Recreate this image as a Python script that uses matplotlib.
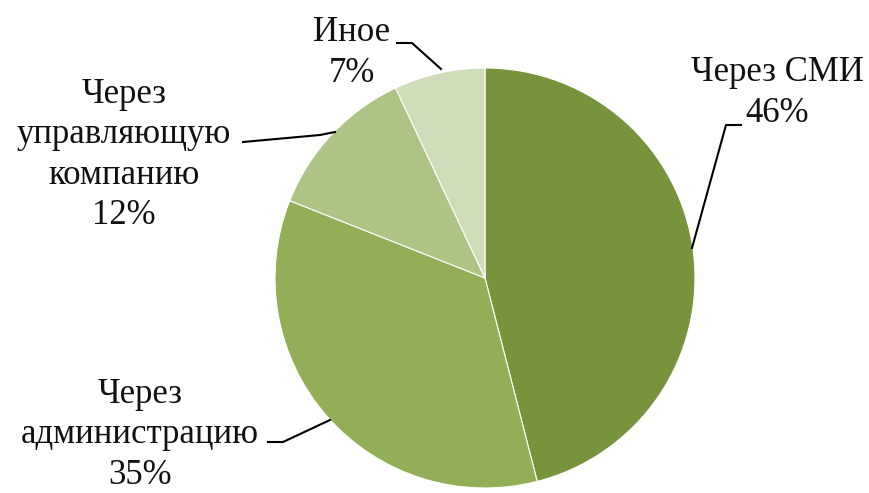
import matplotlib.pyplot as plt
import numpy as np

# Доли ответов
labels = ['Через СМИ', 'Через\nадминистрацию', 'Через\nуправляющую\nкомпанию', 'Иное']
values = [46, 35, 12, 7]
colors = ['#77933C', '#92AE56', '#AEC486', '#CFDCB9']

H = 493

fig = plt.figure(figsize=(8.7, 4.93), dpi=100)
ax = fig.add_axes([0, 0, 1, 1])

ax.pie(values, colors=colors, startangle=90, counterclock=False,
       center=(485, H - 278), radius=210, frame=True,
       wedgeprops=dict(edgecolor='white', linewidth=0.8))
ax.set_xlim(0, 870)
ax.set_ylim(0, H)
ax.set_aspect('equal')
ax.axis('off')

fnt = dict(family='Liberation Serif', fontsize=25, color='#111111',
           ha='center', va='center', linespacing=1.3)

# подписи: (x, y центра блока, линия-выноска)
places = [
    (777, 93, [(692, 248), (726, 125), (741, 125)]),
    (140, 435, [(330, 420), (283, 442), (268, 442)]),
    (124, 155, [(335, 132), (320, 135), (243, 142)]),
    (352, 53, [(441, 69), (412, 43), (397, 43)]),
]

for lab, v, (x, y, pts) in zip(labels, values, places):
    ax.text(x, H - y, f'{lab}\n{v}%', **fnt)
    px = [p[0] for p in pts]
    py = [H - p[1] for p in pts]
    ax.plot(px, py, '-', color='black', lw=1.5)

plt.savefig('out.png', dpi=100)
